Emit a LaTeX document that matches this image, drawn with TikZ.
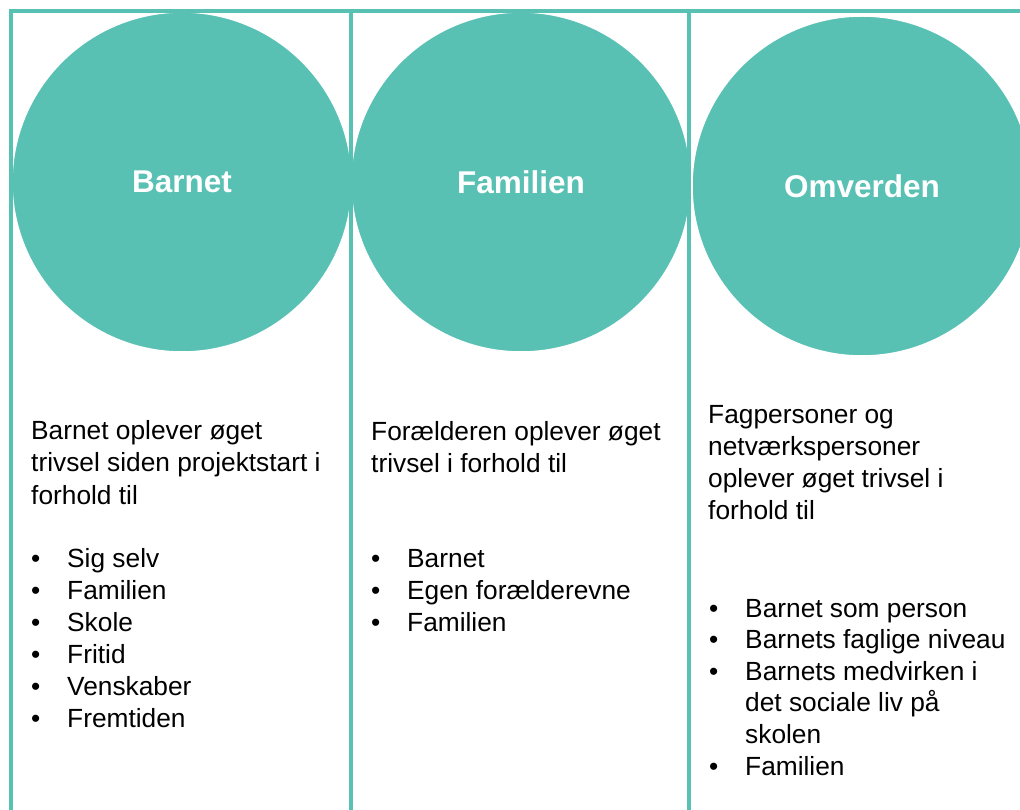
\documentclass[tikz,border=0pt]{standalone}
\usepackage{fontspec}
\setmainfont{Liberation Sans}
\definecolor{tealc}{RGB}{89,192,180}
\begin{document}
\begin{tikzpicture}[x=1pt,y=-1pt,
  bigcirc/.style={circle, fill=tealc, draw=white, line width=1.5pt, minimum size=340pt, inner sep=0pt,
    text=white, font=\bfseries\fontsize{31.5}{36}\selectfont},
  frameline/.style={draw=tealc, line width=4pt},
  bodytext/.style={anchor=base west, inner sep=0pt, font=\fontsize{26.3}{32}\selectfont, text=black},
]
\useasboundingbox (0,0) rectangle (1020,810);
% circles
\node[bigcirc] (c1) at (182,182) {Barnet};
\node[bigcirc] (c2) at (521,182) {Familien};
\node[bigcirc, yshift=-3pt] (c3) at (862,183) {Omverden};
% frame lines
\coordinate (tl) at (11,11);
\coordinate (tr) at (1020,11);
\coordinate (bl) at (11,810);
\coordinate (m1t) at (351,11);
\coordinate (m1b) at (351,810);
\coordinate (m2t) at (689,11);
\coordinate (m2b) at (689,810);
\draw[frameline] (bl) -- (tl) -- (tr);
\draw[frameline] (m1t) -- (m1b);
\draw[frameline] (m2t) -- (m2b);
% column 1
\node[bodytext] (a1) at (31,439) {Barnet oplever øget};
\node[bodytext] (a2) at (31,471.5) {trivsel siden projektstart i};
\node[bodytext] (a3) at (31,504) {forhold til};
\foreach \y/\t [count=\i] in {567/Sig selv, 599/Familien, 631/Skole, 663/Fritid, 695/Venskaber, 727/Fremtiden}{
  \node[bodytext] (ab\i) at (31,\y) {•};
  \node[bodytext] (at\i) at (67,\y) {\t};
}
% column 2
\node[bodytext] (b1) at (371,440) {Forælderen oplever øget};
\node[bodytext] (b2) at (371,472) {trivsel i forhold til};
\foreach \y/\t [count=\i] in {567/Barnet, 599/Egen forælderevne, 631/Familien}{
  \node[bodytext] (bb\i) at (371,\y) {•};
  \node[bodytext] (bt\i) at (407,\y) {\t};
}
% column 3
\node[bodytext] (d1) at (708,423) {Fagpersoner og};
\node[bodytext] (d2) at (708,455) {netværkspersoner};
\node[bodytext] (d3) at (708,487) {oplever øget trivsel i};
\node[bodytext] (d4) at (708,519) {forhold til};
\node[bodytext] (db1) at (709,617) {•};
\node[bodytext] (dt1) at (745,617) {Barnet som person};
\node[bodytext] (db2) at (709,648.5) {•};
\node[bodytext] (dt2) at (745,648.5) {Barnets faglige niveau};
\node[bodytext] (db3) at (709,680) {•};
\node[bodytext] (dt3) at (745,680) {Barnets medvirken i};
\node[bodytext] (dt3b) at (745,711.5) {det sociale liv på};
\node[bodytext] (dt3c) at (745,743) {skolen};
\node[bodytext] (db4) at (709,775) {•};
\node[bodytext] (dt4) at (745,775) {Familien};
\end{tikzpicture}
\end{document}
